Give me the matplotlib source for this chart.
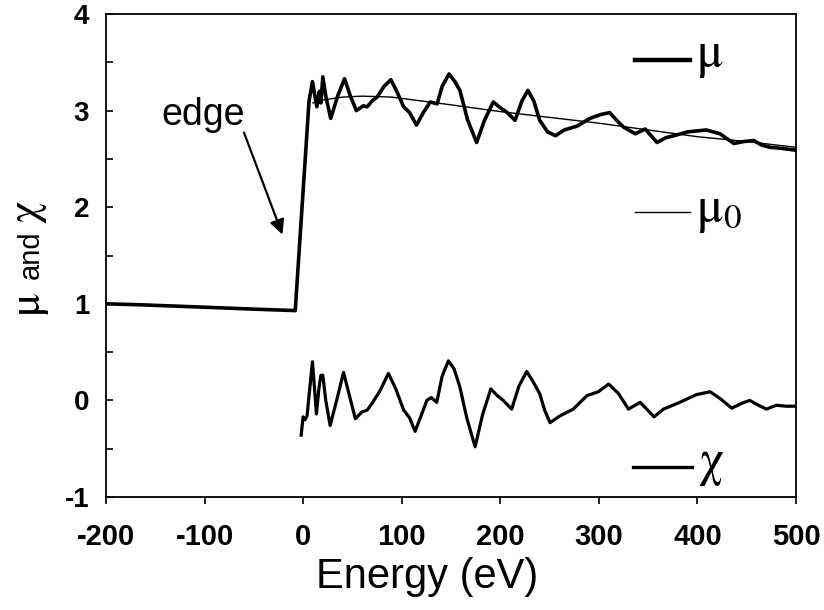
import numpy as np
import matplotlib
matplotlib.use('Agg')
import matplotlib.pyplot as plt

plt.rcParams['font.family'] = ['Liberation Sans', 'DejaVu Sans']
plt.rcParams['axes.unicode_minus'] = False
plt.rcParams['mathtext.fontset'] = 'stix'

# mu (absorption)
e_mu = [-200, -165, -100, -50, -8, 6, 9.5, 12, 14, 16.5, 18, 20, 23, 28, 35, 42, 48, 54, 61, 65, 70,
        75, 82, 89, 95, 102, 108, 115, 122, 129, 136, 141, 148, 154, 159, 167, 176, 184, 193, 200,
        207, 215, 222, 228, 234, 240, 248, 256, 265, 278, 291, 302, 311, 318, 325, 337, 347, 359,
        368, 376, 390, 409, 423, 437, 447, 457, 466, 474, 485, 500]
mu = [1.00, 0.99, 0.965, 0.945, 0.93, 3.10, 3.30, 3.15, 3.04, 3.20, 3.08, 3.35, 3.15, 2.92, 3.15, 3.33,
      3.15, 3.00, 3.05, 3.04, 3.10, 3.14, 3.25, 3.32, 3.20, 3.04, 2.98, 2.85, 2.98, 3.09, 3.07, 3.25,
      3.38, 3.30, 3.21, 2.90, 2.67, 2.90, 3.09, 3.03, 2.98, 2.90, 3.10, 3.21, 3.10, 2.90, 2.78, 2.74,
      2.80, 2.84, 2.92, 2.96, 2.98, 2.90, 2.83, 2.76, 2.81, 2.67, 2.72, 2.74, 2.78, 2.80, 2.76, 2.66,
      2.68, 2.69, 2.64, 2.62, 2.61, 2.59]

# mu0 (smooth background)
e_mu0 = [10, 20, 40, 60, 90, 120, 150, 200, 250, 300, 350, 400, 450, 500]
mu0 = [3.08, 3.11, 3.14, 3.15, 3.14, 3.10, 3.06, 2.99, 2.93, 2.87, 2.80, 2.73, 2.68, 2.62]

# chi (oscillations)
e_chi = [-2, 0, 2, 4, 6, 9.5, 11, 13.5, 16, 18, 20, 23, 27.4, 34, 41, 47, 53, 59.5, 65, 70, 78, 86.5,
         94, 102, 108, 113.6, 120, 125.5, 130, 135.6, 141, 147.4, 153, 159, 166, 174.5, 182, 190.4,
         197, 203, 211.6, 219, 226.8, 233, 240, 245, 250.5, 260.6, 274, 288, 299.5, 310, 320, 330,
         342, 356, 365.5, 382, 399, 412.8, 423, 434.8, 445, 453, 462, 470, 480, 490, 500]
chi = [-0.36, -0.17, -0.20, -0.16, 0.05, 0.40, 0.20, -0.14, 0.12, 0.26, 0.26, 0.0, -0.26, 0.0, 0.29,
       0.05, -0.19, -0.12, -0.10, -0.03, 0.10, 0.28, 0.12, -0.10, -0.18, -0.32, -0.15, 0.0, 0.03,
       -0.02, 0.25, 0.41, 0.33, 0.14, -0.18, -0.48, -0.15, 0.12, 0.05, 0.0, -0.09, 0.15, 0.30, 0.20,
       0.07, -0.10, -0.23, -0.16, -0.09, 0.05, 0.09, 0.17, 0.07, -0.09, -0.02, -0.17, -0.09, -0.02,
       0.06, 0.09, 0.02, -0.08, -0.03, 0.0, -0.05, -0.09, -0.05, -0.06, -0.06]

xticks = [-200, -100, 0, 100, 200, 300, 400, 500]
yticks = [-1, 0, 1, 2, 3, 4]

fig = plt.figure(figsize=(8.24, 6.10), dpi=100)
ax = fig.add_axes([0.1286, 0.1852, 0.8374, 0.7918])

ax.plot(e_mu, mu, color='black', lw=2.6, solid_joinstyle='round')
ax.plot(e_mu0, mu0, color='black', lw=1.0)
ax.plot(e_chi, chi, color='black', lw=2.3, solid_joinstyle='round')

ax.set_xlim(-200, 500)
ax.set_ylim(-1, 4)
ax.set_xticks(xticks)
ax.set_yticks(yticks)
ax.set_yticks(np.arange(-0.5, 4, 1.0), minor=True)
ax.tick_params(axis='x', direction='out', length=5, width=1.2, pad=14, labelsize=21)
ax.tick_params(axis='y', which='both', direction='in', length=5, width=1.2, pad=12, labelsize=20)
for lab in ax.get_xticklabels() + ax.get_yticklabels():
    lab.set_fontweight('bold')
for sp in ax.spines.values():
    sp.set_linewidth(1.3)

ax.set_xlabel('Energy (eV)', fontsize=30)
ax.xaxis.set_label_coords(0.465, -0.125)

# y label: mu and chi in serif, "and" in sans
fig.text(0.033, 0.505, 'μ', family='STIXGeneral', fontsize=32, rotation=90, ha='center', va='center')
fig.text(0.037, 0.583, 'and', fontsize=21, rotation=90, ha='center', va='center')
fig.text(0.033, 0.652, 'χ', family='STIXGeneral', fontsize=32, rotation=90, ha='center', va='center')

# edge annotation
ax.annotate('', xy=(-20, 1.69), xytext=(-61, 2.80),
            arrowprops=dict(arrowstyle='-|>', color='black', lw=1.6, mutation_scale=22))
ax.text(-101, 2.95, 'edge', fontsize=27, ha='center', va='center')

# legend keys placed at the right side
ax.plot([0.767, 0.846], [0.905, 0.905], color='black', lw=3.2, transform=ax.transAxes)
ax.text(0.855, 0.890, 'μ', family='STIXGeneral', fontsize=36, transform=ax.transAxes, va='baseline')
ax.plot([0.767, 0.846], [0.590, 0.590], color='black', lw=1.0, transform=ax.transAxes)
ax.text(0.855, 0.569, r'$\mathrm{\mu}_0$', fontsize=36, transform=ax.transAxes, va='baseline')
ax.plot([0.764, 0.849], [0.062, 0.062], color='black', lw=2.4, transform=ax.transAxes)
ax.text(0.859, 0.045, 'χ', family='STIXGeneral', fontsize=36, transform=ax.transAxes, va='baseline')

fig.savefig('out.png', dpi=100)
